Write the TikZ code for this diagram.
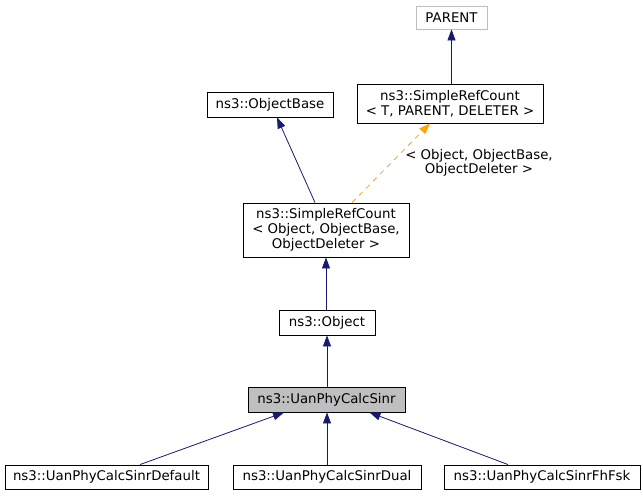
\documentclass[tikz,border=0pt]{standalone}
\usepackage{fontspec}
\setmainfont{DejaVu Sans}
\usetikzlibrary{arrows.meta,calc}

\definecolor{edgeblue}{RGB}{25,25,112}
\definecolor{edgeorange}{RGB}{255,165,0}
\definecolor{boxgray}{RGB}{191,191,191}

\tikzset{
  cls/.style={draw=black,line width=0.9pt,inner sep=0pt,align=center,
    font=\fontsize{13.33}{15}\selectfont,minimum height=25pt},
  extcls/.style={cls,draw=boxgray},
  curcls/.style={cls,fill=boxgray},
  inherit/.style={draw=edgeblue,line width=0.8pt,
    -{Triangle[length=11pt,width=8pt]}},
  tmpl/.style={draw=edgeorange,line width=0.8pt,dash pattern=on 5pt off 5pt,
    -{Triangle[length=11pt,width=8pt]}}
}

\begin{document}
\begin{tikzpicture}[x=1pt,y=-1pt]
\useasboundingbox (0,0) rectangle (643,496);

\node[extcls,minimum width=71pt,minimum height=23pt] (parent) at (451.5,17.5) {PARENT};
\node[cls,minimum width=186pt,minimum height=39pt] (srct) at (450,103.5) {ns3::SimpleRefCount\\< T, PARENT, DELETER >};
\node[cls,minimum width=126pt] (objbase) at (270,104.5) {ns3::ObjectBase};
\node[cls,minimum width=166pt,minimum height=54pt] (srco) at (326,230) {ns3::SimpleRefCount\\< Object, ObjectBase,\\ObjectDeleter >};
\node[cls,minimum width=96pt] (object) at (327,322.5) {ns3::Object};
\node[curcls,minimum width=157pt] (uan) at (326.5,399.5) {ns3::UanPhyCalcSinr};

\node[cls,minimum width=203pt,minimum height=24pt] (dflt) at (106.5,477) {ns3::UanPhyCalcSinrDefault};
\node[cls,minimum width=188pt,minimum height=24pt] (dual) at (327,477) {ns3::UanPhyCalcSinrDual};
\node[cls,minimum width=196pt,minimum height=24pt] (fhfsk) at (542,477) {ns3::UanPhyCalcSinrFhFsk};

% edges to the base classes
\draw[inherit] (srct.north -| parent) -- (parent.south);
\draw[inherit] ($(srco.north)+(-11,0)$) -- ($(objbase.south)+(7,0)$);
\draw[tmpl] ($(srco.north)+(26,0)$) -- ($(srct.south)+(-20,0)$);
\node[font=\fontsize{13.33}{14}\selectfont,align=center] (tmpllabel) at (479,163) {< Object, ObjectBase,\\ObjectDeleter >};
\draw[inherit] (object.north -| srco) -- (srco.south);
\draw[inherit] (uan.north -| object) -- (object.south);

% derived classes
\draw[inherit] ($(dflt.north)+(33.5,0)$) -- ($(uan.south)+(-42.5,0)$);
\draw[inherit] (dual.north) -- (dual.north |- uan.south);
\draw[inherit] ($(fhfsk.north)+(-34,0)$) -- ($(uan.south)+(43,0)$);
\end{tikzpicture}
\end{document}
